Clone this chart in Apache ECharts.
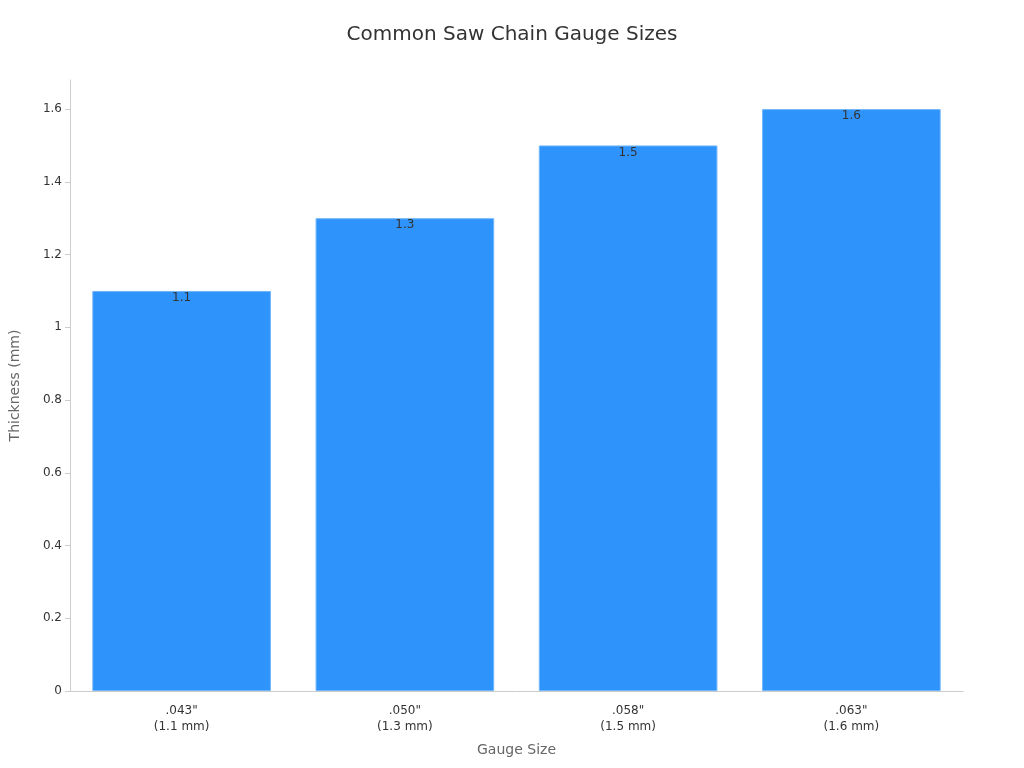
<!DOCTYPE html>
<html><head><meta charset="utf-8">
<script src="https://cdn.jsdelivr.net/npm/echarts@6/dist/echarts.min.js"></script>
<style>html,body{margin:0;padding:0;background:#fff}#c{width:1024px;height:768px}</style>
</head><body><div id="c"></div>
<script>
const categories = ['.043"\n(1.1 mm)', '.050"\n(1.3 mm)', '.058"\n(1.5 mm)', '.063"\n(1.6 mm)'];
const thickness = [1.1, 1.3, 1.5, 1.6];

const chart = echarts.init(document.getElementById('c'));
chart.setOption({
  backgroundColor: '#fff',
  textStyle: { fontFamily: 'DejaVu Sans' },
  title: { text: 'Common Saw Chain Gauge Sizes', left: 'center', top: 20,
    textStyle: { fontSize: 20, fontWeight: 'normal', color: '#333' } },
  grid: { left: 64, right: 61, top: 80, bottom: 77 },
  xAxis: {
    type: 'category', data: categories,
    name: 'Gauge Size', nameLocation: 'middle', nameGap: 52,
    nameTextStyle: { fontSize: 14, color: '#666' },
    axisLine: { lineStyle: { color: '#ccc' } },
    axisTick: { show: false },
    axisLabel: { color: '#333', fontSize: 12, lineHeight: 16, margin: 12 }
  },
  yAxis: {
    type: 'value', min: 0, max: 1.68, interval: 0.2,
    name: 'Thickness (mm)', nameLocation: 'middle', nameGap: 48,
    nameTextStyle: { fontSize: 14, color: '#666' },
    axisLine: { show: true, lineStyle: { color: '#ccc' } },
    axisTick: { show: true, lineStyle: { color: '#ccc' } },
    splitLine: { show: false },
    axisLabel: { color: '#333', fontSize: 12, showMaxLabel: false,
      formatter: v => String(Math.round(v * 10) / 10) }
  },
  series: [{
    type: 'bar', data: thickness, barCategoryGap: '20%',
    itemStyle: { color: '#2E93FA', borderColor: '#6fb5fb', borderWidth: 1 },
    label: { show: true, position: 'insideTop', offset: [0, -4], color: '#333', fontSize: 12 }
  }]
});
</script></body></html>
